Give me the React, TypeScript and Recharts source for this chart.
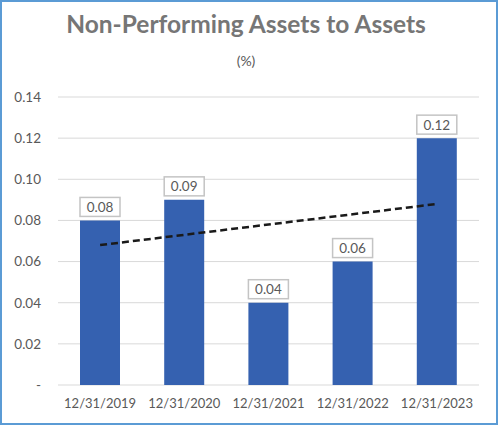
import { Bar, CartesianGrid, ComposedChart, LabelList, Line, XAxis, YAxis } from 'recharts';

const dates = ['12/31/2019', '12/31/2020', '12/31/2021', '12/31/2022', '12/31/2023'];
const npaRatio = [0.08, 0.09, 0.04, 0.06, 0.12];
// linear trendline
const trend = [0.068, 0.073, 0.078, 0.083, 0.088];
const yTicks = [0, 0.02, 0.04, 0.06, 0.08, 0.1, 0.12, 0.14];

const chartData = dates.map((date, i) => ({ date, value: npaRatio[i], trend: trend[i] }));

const FONT = 'Lato, "Open Sans", sans-serif';

const BoxLabel = (props: any) => {
  const { x, y, width, value } = props;
  const h = 19;
  const top = y - 4 - h;
  return (
    <g>
      <rect x={x} y={top} width={width} height={h} fill="#ffffff" stroke="#c4c4c4" strokeWidth={1.5} />
      <text
        x={x + width / 2}
        y={top + h / 2}
        dy="0.36em"
        textAnchor="middle"
        fill="#595959"
        fontSize={13.5}
        fontFamily={FONT}
      >
        {Number(value).toFixed(2)}
      </text>
    </g>
  );
};

const App = () => {
  return (
    <div style={{ position: 'absolute', left: 0, top: 0, width: 498, height: 425, background: '#fff' }}>
      <div
        style={{
          position: 'absolute',
          left: 0,
          top: 8,
          width: 492,
          textAlign: 'center',
          fontFamily: FONT,
          fontWeight: 700,
          fontSize: 24.5,
          color: '#767676',
          lineHeight: '31px',
        }}
      >
        Non-Performing Assets to Assets
      </div>
      <div
        style={{
          position: 'absolute',
          left: 0,
          top: 52,
          width: 492,
          textAlign: 'center',
          fontFamily: FONT,
          fontSize: 14,
          color: '#595959',
          lineHeight: '18px',
        }}
      >
        (%)
      </div>
      <div style={{ position: 'absolute', left: 0, top: 0 }}>
        <ComposedChart
          width={498}
          height={425}
          data={chartData}
          margin={{ top: 97, right: 19, bottom: 10, left: 8 }}
        >
          <CartesianGrid vertical={false} stroke="#d9d9d9" strokeWidth={1} />
          <XAxis
            dataKey="date"
            axisLine={false}
            tickLine={false}
            tickSize={6}
            tickMargin={8}
            height={30}
            interval={0}
            tick={{ fill: '#595959', fontSize: 13, fontFamily: FONT }}
          />
          <YAxis
            domain={[0, 0.14]}
            ticks={yTicks}
            width={50}
            axisLine={false}
            tickLine={false}
            tickSize={6}
            tickMargin={11}
            tickFormatter={(v: number) => (v === 0 ? '-' : v.toFixed(2))}
            tick={{ fill: '#595959', fontSize: 13.5, fontFamily: FONT }}
          />
          <Bar dataKey="value" fill="#3561b0" barSize={40} isAnimationActive={false}>
            <LabelList dataKey="value" content={BoxLabel} />
          </Bar>
          <Line
            dataKey="trend"
            stroke="#1a1a1a"
            strokeWidth={2.5}
            strokeDasharray="7 4"
            dot={false}
            activeDot={false}
            isAnimationActive={false}
          />
        </ComposedChart>
      </div>
      <div
        style={{
          position: 'absolute',
          left: 0,
          top: 0,
          width: 498,
          height: 425,
          boxSizing: 'border-box',
          border: '2px solid #5b9bd5',
          pointerEvents: 'none',
        }}
      />
    </div>
  );
};

export default App;
